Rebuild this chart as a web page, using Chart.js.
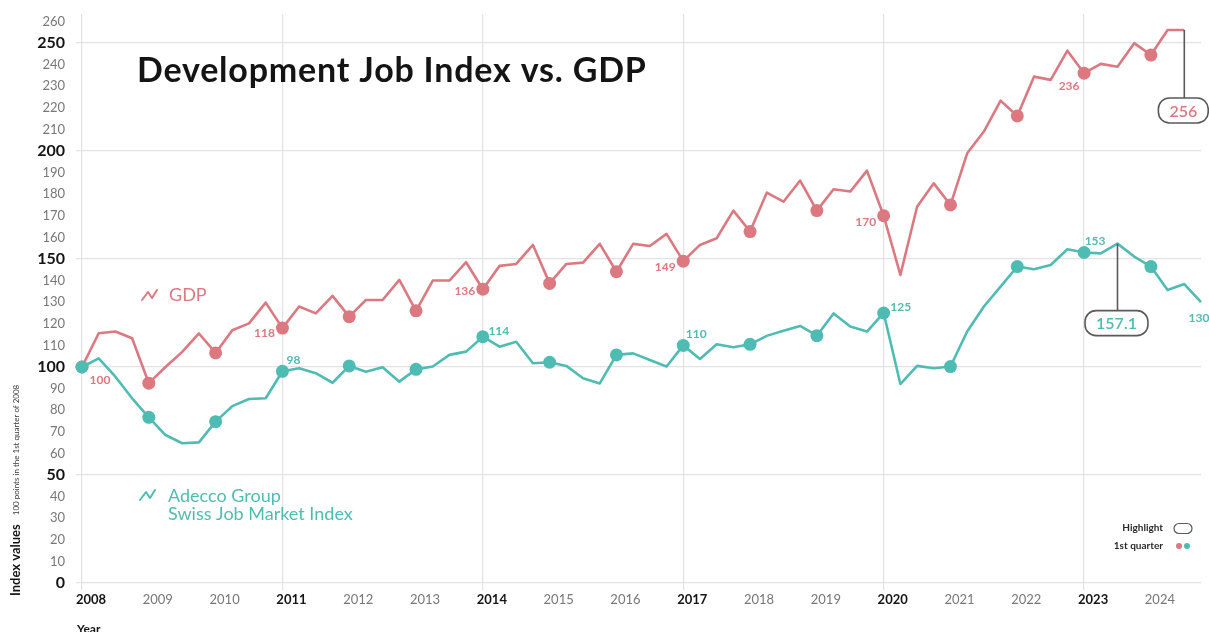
<!DOCTYPE html>
<html>
<head>
<meta charset="utf-8">
<script src="https://cdn.jsdelivr.net/npm/chart.js@4.4.1/dist/chart.umd.min.js"></script>
<style>
  html, body { margin: 0; padding: 0; background: #ffffff; overflow: hidden; }
  #wrap { width: 1209px; height: 632px; position: relative; }
</style>
</head>
<body>
<div id="wrap"><canvas id="chart"></canvas></div>
<script>
// ---- data ----
const years = [2008, 2009, 2010, 2011, 2012, 2013, 2014, 2015, 2016, 2017, 2018, 2019, 2020, 2021, 2022, 2023, 2024];
const quarterNames = ['Q1', 'Q2', 'Q3', 'Q4'];

// Swiss GDP, index (2008 Q1 = 100)
const gdpIndex = [
  100, 115.6, 116.4, 113.3, 92.5, 100, 107, 115.5, 106.5, 117,
  120.2, 129.8, 118, 128, 124.8, 132.9, 123.3, 131, 131, 140.3,
  126, 140, 140, 148.5, 136, 146.8, 147.7, 156.5, 138.7, 147.7,
  148.3, 157, 144.1, 157, 156, 161.6, 149, 156.5, 159.6, 172.4,
  162.7, 180.7, 176.5, 186.3, 172.4, 182.3, 181.2, 190.9, 170, 142.6,
  174.2, 185, 175, 198.9, 209, 223.3, 216.2, 234.4, 232.9, 246.4,
  236, 240.3, 239, 249.9, 244.4, 256, 256
];

// Adecco Group Swiss Job Market Index (2008 Q1 = 100)
const jobIndex = [
  100, 104, 95.5, 85.5, 76.7, 68.5, 64.7, 65.1, 74.7, 81.9,
  85.2, 85.5, 98, 99.4, 97.1, 92.7, 100.5, 97.8, 99.9, 93.2,
  98.9, 100.2, 105.6, 107.1, 114, 109.4, 111.7, 101.7, 102.2, 100.5,
  94.8, 92.4, 105.6, 106.3, 103.2, 100.2, 110, 103.7, 110.5, 109.1,
  110.5, 114.4, 116.8, 119, 114.5, 124.8, 118.7, 116.4, 125, 92.1,
  100.5, 99.4, 100.2, 116.4, 128, 137.2, 146.5, 145.2, 147.2, 154.5,
  153, 152.6, 157.1, 151.1, 146.5, 135.6, 138.4, 130
];

const yTickValues = [0, 10, 20, 30, 40, 50, 60, 70, 80, 90, 100, 110, 120, 130, 140, 150, 160, 170, 180, 190, 200, 210, 220, 230, 240, 250, 260];
const yMajorTicks = [0, 50, 100, 150, 200, 250];
const boldYears = [2008, 2011, 2014, 2017, 2020, 2023];

// quarters whose value is printed next to the line
const gdpLabelled = [0, 12, 24, 36, 48, 60];
const jobLabelled = [12, 24, 36, 48, 60, 67];
// quarters shown in a highlight box
const gdpHighlight = 66;
const jobHighlight = 62;

// ---- style ----
const FONT = "Lato, 'Open Sans', 'DejaVu Sans', sans-serif";
const PINK = '#dc7880';
const TEAL = '#4fbcb3';
const GRID = '#e2e2e2';
const DARK = '#141414';
const MUTED = '#777777';
const BOX = '#595959';

const quarters = years.flatMap(y => quarterNames.map(q => y + ' ' + q));
const yearOf = i => years[Math.floor((i || 0) / 4)];
const isMajorY = c => !!(c && c.tick && yMajorTicks.includes(c.tick.value));
const isBoldYear = c => !!(c && c.index !== undefined && boldYears.includes(yearOf(c.index)));

// label placement relative to its point, in px
const gdpLabelOffset = { 0: [18, 13], 12: [-18, 5], 24: [-18, 2], 36: [-18, 6], 48: [-18, 6], 60: [-15, 13] };
const jobLabelOffset = { 12: [11, -11], 24: [16, -6], 36: [13, -11], 48: [17, -6], 60: [11, -11], 67: [-2, 16] };

function roundRect(ctx, x, y, w, h, r) {
  ctx.beginPath();
  ctx.moveTo(x + r, y);
  ctx.lineTo(x + w - r, y);
  ctx.arcTo(x + w, y, x + w, y + r, r);
  ctx.lineTo(x + w, y + h - r);
  ctx.arcTo(x + w, y + h, x + w - r, y + h, r);
  ctx.lineTo(x + r, y + h);
  ctx.arcTo(x, y + h, x, y + h - r, r);
  ctx.lineTo(x, y + r);
  ctx.arcTo(x, y, x + r, y, r);
  ctx.closePath();
}

function zigzag(ctx, x, y, color) {
  ctx.save();
  ctx.strokeStyle = color;
  ctx.lineWidth = 2;
  ctx.lineJoin = 'round';
  ctx.lineCap = 'round';
  ctx.beginPath();
  ctx.moveTo(x, y + 5);
  ctx.lineTo(x + 6, y - 3);
  ctx.lineTo(x + 10, y + 3);
  ctx.lineTo(x + 15, y - 5);
  ctx.stroke();
  ctx.restore();
}

const annotations = {
  id: 'annotations',
  afterDatasetsDraw(chart) {
    const ctx = chart.ctx;
    const jobMeta = chart.getDatasetMeta(0);
    const gdpMeta = chart.getDatasetMeta(1);

    // values next to the first-quarter points
    ctx.save();
    ctx.font = 'bold 12px ' + FONT;
    ctx.textAlign = 'center';
    ctx.textBaseline = 'middle';
    ctx.fillStyle = PINK;
    gdpLabelled.forEach(i => {
      const p = gdpMeta.data[i];
      const [dx, dy] = gdpLabelOffset[i];
      ctx.fillText(String(gdpIndex[i]), p.x + dx, p.y + dy);
    });
    ctx.fillStyle = TEAL;
    jobLabelled.forEach(i => {
      const p = jobMeta.data[i];
      const [dx, dy] = jobLabelOffset[i];
      ctx.fillText(String(jobIndex[i]), p.x + dx, p.y + dy);
    });
    ctx.restore();

    // highlight boxes hanging from a point
    const highlight = (p, text, color, drop) => {
      ctx.save();
      ctx.font = '600 16px ' + FONT;
      const w = ctx.measureText(text).width + 22;
      const h = 25;
      const cx = p.x - 1;
      const top = p.y + drop;
      ctx.strokeStyle = BOX;
      ctx.lineWidth = 1.6;
      ctx.beginPath();
      ctx.moveTo(p.x, p.y);
      ctx.lineTo(p.x, top);
      ctx.stroke();
      roundRect(ctx, cx - w / 2, top, w, h, 11);
      ctx.fillStyle = '#ffffff';
      ctx.fill();
      ctx.stroke();
      ctx.fillStyle = color;
      ctx.textAlign = 'center';
      ctx.textBaseline = 'middle';
      ctx.fillText(text, cx, top + h / 2 + 1);
      ctx.restore();
    };
    highlight(gdpMeta.data[gdpHighlight], String(gdpIndex[gdpHighlight]), PINK, 68);
    highlight(jobMeta.data[jobHighlight], String(jobIndex[jobHighlight]), TEAL, 67);
  },
  afterDraw(chart) {
    const ctx = chart.ctx;
    ctx.save();

    // title
    ctx.fillStyle = DARK;
    ctx.font = 'bold 34px ' + FONT;
    ctx.letterSpacing = '0.8px';
    ctx.textAlign = 'left';
    ctx.textBaseline = 'alphabetic';
    ctx.fillText('Development Job Index vs. GDP', 137, 82);
    ctx.letterSpacing = '0px';

    // series names inside the plot
    zigzag(ctx, 142, 295, PINK);
    ctx.fillStyle = PINK;
    ctx.font = '18px ' + FONT;
    ctx.textBaseline = 'middle';
    ctx.fillText('GDP', 169, 295);

    zigzag(ctx, 140, 495, TEAL);
    ctx.fillStyle = TEAL;
    ctx.font = '18px ' + FONT;
    ctx.fillText('Adecco Group', 168, 496);
    ctx.fillText('Swiss Job Market Index', 168, 514);

    // key, lower right
    ctx.fillStyle = '#2a2a2a';
    ctx.font = 'bold 10px ' + FONT;
    ctx.textAlign = 'right';
    ctx.fillText('Highlight', 1163, 528);
    ctx.fillText('1st quarter', 1163, 546);
    ctx.strokeStyle = BOX;
    ctx.lineWidth = 1.2;
    roundRect(ctx, 1174, 523.5, 18, 10, 5);
    ctx.stroke();
    ctx.fillStyle = PINK;
    ctx.beginPath(); ctx.arc(1179, 546, 3, 0, Math.PI * 2); ctx.fill();
    ctx.fillStyle = TEAL;
    ctx.beginPath(); ctx.arc(1187, 546, 3, 0, Math.PI * 2); ctx.fill();

    // axis titles
    ctx.save();
    ctx.translate(16, 596);
    ctx.rotate(-Math.PI / 2);
    ctx.textAlign = 'left';
    ctx.textBaseline = 'middle';
    ctx.fillStyle = DARK;
    ctx.font = 'bold 13px ' + FONT;
    ctx.fillText('Index values', 0, 0);
    const w = ctx.measureText('Index values').width;
    ctx.fillStyle = '#3a3a3a';
    ctx.font = '8px ' + FONT;
    ctx.fillText('100 points in the 1st quarter of 2008', w + 9, 0);
    ctx.restore();

    ctx.fillStyle = DARK;
    ctx.font = 'bold 12px ' + FONT;
    ctx.textAlign = 'left';
    ctx.textBaseline = 'alphabetic';
    ctx.fillText('Year', 77, 633);

    ctx.restore();
  }
};

const pointSize = ctx => (ctx.dataIndex % 4 === 0 ? 6.5 : 0);

// keep the plot area exactly where the layout padding puts it
const noScalePadding = s => { s.paddingTop = 0; s.paddingBottom = 0; s.paddingLeft = 0; s.paddingRight = 0; };

new Chart(document.getElementById('chart'), {
  type: 'line',
  data: {
    labels: quarters,
    datasets: [
      {
        label: 'Adecco Group Swiss Job Market Index',
        data: jobIndex,
        borderColor: TEAL,
        backgroundColor: TEAL,
        borderWidth: 2.6,
        tension: 0,
        borderJoinStyle: 'round',
        pointRadius: pointSize,
        pointHoverRadius: pointSize,
        pointBackgroundColor: TEAL,
        pointBorderWidth: 0,
        clip: false
      },
      {
        label: 'GDP',
        data: gdpIndex,
        borderColor: PINK,
        backgroundColor: PINK,
        borderWidth: 2.6,
        tension: 0,
        borderJoinStyle: 'round',
        pointRadius: pointSize,
        pointHoverRadius: pointSize,
        pointBackgroundColor: PINK,
        pointBorderWidth: 0,
        clip: false
      }
    ]
  },
  options: {
    responsive: true,
    maintainAspectRatio: false,
    animation: false,
    devicePixelRatio: 1,
    layout: { padding: { top: 14, right: 8, bottom: 0, left: 0 } },
    plugins: {
      legend: { display: false },
      tooltip: { enabled: false },
      title: { display: false }
    },
    events: [],
    scales: {
      x: {
        type: 'category',
        offset: false,
        border: { display: false },
        grid: {
          color: c => (c && c.index !== undefined && c.index % 12 === 0 ? GRID : 'rgba(0,0,0,0)'),
          lineWidth: 1.2,
          tickLength: 7
        },
        ticks: {
          autoSkip: false,
          maxRotation: 0,
          minRotation: 0,
          padding: 2,
          labelOffset: 9,
          callback: (v, i) => (i % 4 === 0 ? String(yearOf(i)) : ''),
          color: c => (isBoldYear(c) ? DARK : MUTED),
          font: c => ({ family: FONT, size: 13, weight: isBoldYear(c) ? 'bold' : 'normal' })
        },
        afterFit: s => { s.height = 49; noScalePadding(s); }
      },
      y: {
        min: 0,
        max: 263.4,
        border: { display: false },
        afterBuildTicks: s => { s.ticks = yTickValues.map(v => ({ value: v })); },
        grid: {
          color: c => (isMajorY(c) ? GRID : 'rgba(0,0,0,0)'),
          lineWidth: 1.2,
          tickLength: 6
        },
        ticks: {
          autoSkip: false,
          padding: 11,
          callback: v => String(v),
          color: c => (isMajorY(c) ? DARK : MUTED),
          font: c => (isMajorY(c)
            ? { family: FONT, size: 16, weight: 'bold' }
            : { family: FONT, size: 13, weight: 'normal' })
        },
        afterFit: s => { s.width = 82; noScalePadding(s); }
      }
    }
  },
  plugins: [annotations]
});
</script>
</body>
</html>
